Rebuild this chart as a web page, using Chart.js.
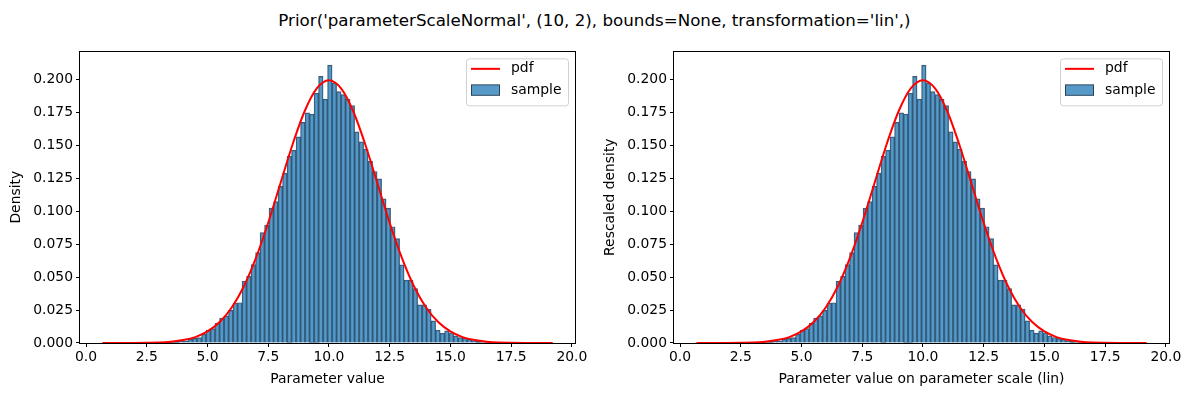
<!DOCTYPE html>
<html>
<head>
<meta charset="utf-8">
<script src="https://cdn.jsdelivr.net/npm/chart.js@4.4.0/dist/chart.umd.min.js"></script>
<style>
  body { margin: 0; background: #fff; width: 1189px; height: 397px; overflow: hidden; position: relative; font-family: "DejaVu Sans", sans-serif; }
  #title { position: absolute; top: 10px; left: 0; width: 1189px; text-align: center; font-size: 16.7px; line-height: 20px; color: #000; white-space: nowrap; }
  .box { position: absolute; top: 40px; width: 590px; height: 357px; }
</style>
</head>
<body>
<div id="title">Prior('parameterScaleNormal', (10, 2), bounds=None, transformation='lin',)</div>
<div class="box" style="left:0px"><canvas id="chartLeft" width="590" height="357"></canvas></div>
<div class="box" style="left:594px"><canvas id="chartRight" width="590" height="357"></canvas></div>
<script>
// histogram: 100 bins starting at binStart, width binWidth
const binStart = 0.68;
const binWidth = 0.1853;
const density = [
  0.0001, 0, 0, 0, 0.0001, 0, 0, 0.0001, 0.0001, 0.0002,
  0.0001, 0.0003, 0.0004, 0.0006, 0.0008, 0.0010, 0.0012, 0.0015, 0.0017, 0.0028,
  0.0035, 0.0041, 0.0068, 0.0098, 0.0110, 0.0150, 0.0190, 0.0206, 0.0248, 0.0304,
  0.0306, 0.0469, 0.0507, 0.0595, 0.0687, 0.0838, 0.0896, 0.1024, 0.1074, 0.1189,
  0.1290, 0.1420, 0.1465, 0.1566, 0.1676, 0.1748, 0.1738, 0.1897, 0.2025, 0.1852,
  0.2110, 0.1975, 0.1910, 0.1887, 0.1852, 0.1804, 0.1603, 0.1528, 0.1473, 0.1380,
  0.1302, 0.1247, 0.1094, 0.1024, 0.0883, 0.0793, 0.0594, 0.0478, 0.0478, 0.0413,
  0.0290, 0.0290, 0.0258, 0.0168, 0.0098, 0.0075, 0.0092, 0.0078, 0.0055, 0.0042,
  0.0035, 0.0028, 0.0018, 0.0012, 0.0008, 0.0006, 0.0004, 0.0003, 0.0002, 0.0001,
  0.0001, 0, 0.0001, 0, 0, 0, 0, 0, 0, 0.0001
];

// red pdf curve
const pdfX = [0.68, 1.5, 2.5, 3.0, 3.5, 4.0, 4.5, 5.0, 5.5, 6.0, 6.5, 7.0, 7.5, 8.0, 8.5, 9.0, 9.5, 10.0,
              10.5, 11.0, 11.5, 12.0, 12.5, 13.0, 13.5, 14.0, 14.5, 15.0, 15.5, 16.0, 16.5, 17.0, 17.5, 18.5, 19.21];
const pdfY = [0.0000, 0.0000, 0.0002, 0.0004, 0.0010, 0.0022, 0.0045, 0.0088, 0.0159, 0.0270, 0.0431, 0.0648, 0.0913, 0.1210, 0.1506, 0.1760, 0.1933, 0.1995,
              0.1933, 0.1760, 0.1506, 0.1210, 0.0913, 0.0648, 0.0431, 0.0270, 0.0159, 0.0088, 0.0045, 0.0022, 0.0010, 0.0004, 0.0002, 0.0000, 0.0000];

const xTicks = [0, 2.5, 5, 7.5, 10, 12.5, 15, 17.5, 20];
const yTicks = [0, 0.025, 0.05, 0.075, 0.1, 0.125, 0.15, 0.175, 0.2];

const FONT = '"DejaVu Sans", sans-serif';
const barFill = 'rgba(31,119,180,0.75)';
const barEdge = 'rgba(25,45,65,0.8)';

// frame around the axes + matplotlib-like legend in upper right
const framePlugin = {
  id: 'frame',
  afterDatasetsDraw(chart) {
    const ctx = chart.ctx;
    const a = chart.chartArea;
    ctx.save();
    ctx.strokeStyle = '#000';
    ctx.lineWidth = 1;
    ctx.strokeRect(Math.round(a.left) - 0.5, Math.round(a.top) + 0.5,
                   Math.round(a.right - a.left) + 1, Math.round(a.bottom - a.top));

    // legend box
    const w = 102, h = 47;
    const lx = a.right - 7 - w, ly = a.top + 7;
    ctx.beginPath();
    ctx.roundRect(lx + 0.5, ly + 0.5, w, h, 3);
    ctx.fillStyle = 'rgba(255,255,255,0.8)';
    ctx.fill();
    ctx.strokeStyle = '#d0d0d0';
    ctx.stroke();

    ctx.strokeStyle = 'red';
    ctx.lineWidth = 2;
    ctx.beginPath();
    ctx.moveTo(lx + 5, ly + 10.5);
    ctx.lineTo(lx + 34, ly + 10.5);
    ctx.stroke();

    ctx.fillStyle = barFill;
    ctx.fillRect(lx + 5, ly + 26.5, 29, 10.5);
    ctx.strokeStyle = barEdge;
    ctx.lineWidth = 1;
    ctx.strokeRect(lx + 5.5, ly + 26.5, 28, 10.5);

    ctx.fillStyle = '#000';
    ctx.font = '13.9px ' + FONT;
    ctx.textBaseline = 'middle';
    ctx.textAlign = 'left';
    ctx.fillText('pdf', lx + 45, ly + 10.5);
    ctx.fillText('sample', lx + 45, ly + 32);
    ctx.restore();
  }
};

function makeChart(canvasId, xLabel, yLabel) {
  const bars = density.map((d, i) => ({ x: binStart + (i + 0.5) * binWidth, y: d }));
  const line = pdfX.map((x, i) => ({ x: x, y: pdfY[i] }));
  const tickFont = { family: FONT, size: 13.9 };

  return new Chart(document.getElementById(canvasId), {
    type: 'bar',
    data: {
      datasets: [
        {
          type: 'line',
          label: 'pdf',
          data: line,
          borderColor: 'red',
          borderWidth: 2,
          pointRadius: 0,
          cubicInterpolationMode: 'monotone',
          order: 0
        },
        {
          type: 'bar',
          label: 'sample',
          data: bars,
          backgroundColor: barFill,
          borderColor: barEdge,
          borderWidth: 0.8,
          barPercentage: 1,
          categoryPercentage: 1,
          grouped: false,
          order: 1
        }
      ]
    },
    options: {
      responsive: false,
      animation: false,
      devicePixelRatio: 1,
      layout: { padding: { top: 10, right: 15, left: 0, bottom: 0 } },
      plugins: { legend: { display: false }, tooltip: { enabled: false } },
      scales: {
        x: {
          type: 'linear',
          min: -0.247,
          max: 20.13,
          offset: false,
          afterBuildTicks: s => { s.ticks = xTicks.map(v => ({ value: v })); },
          afterFit: s => { s.height = 54; },
          ticks: { font: tickFont, color: '#000', padding: 2, maxRotation: 0, callback: v => v.toFixed(1) },
          grid: { display: true, offset: false, drawOnChartArea: false, drawTicks: true, tickLength: 4, color: '#000', lineWidth: 1 },
          border: { display: false },
          title: { display: true, text: xLabel, font: tickFont, color: '#000', padding: { top: 0, bottom: 9 } }
        },
        y: {
          min: 0,
          max: 0.2215,
          afterBuildTicks: s => { s.ticks = yTicks.map(v => ({ value: v })); },
          afterFit: s => { s.width = 80; },
          ticks: { font: tickFont, color: '#000', padding: 3, callback: v => v.toFixed(3) },
          grid: { display: true, drawOnChartArea: false, drawTicks: true, tickLength: 4, color: '#000', lineWidth: 1 },
          border: { display: false },
          title: { display: true, text: yLabel, font: tickFont, color: '#000', padding: { top: 8, bottom: 0 } }
        }
      }
    },
    plugins: [framePlugin]
  });
}

makeChart('chartLeft', 'Parameter value', 'Density');
makeChart('chartRight', 'Parameter value on parameter scale (lin)', 'Rescaled density');
</script>
</body>
</html>
